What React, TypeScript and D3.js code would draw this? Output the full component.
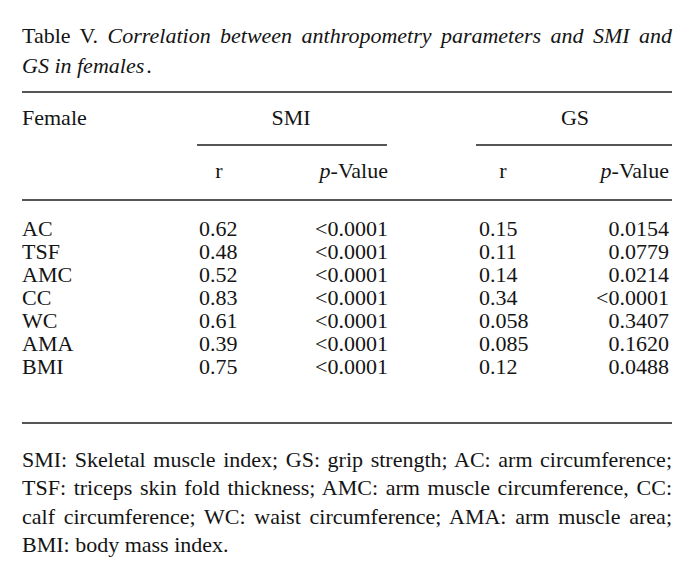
import React, { useEffect, useRef } from "react";
import * as d3 from "d3";

const params = ["AC", "TSF", "AMC", "CC", "WC", "AMA", "BMI"];
const smiR = ["0.62", "0.48", "0.52", "0.83", "0.61", "0.39", "0.75"];
const smiP = ["<0.0001", "<0.0001", "<0.0001", "<0.0001", "<0.0001", "<0.0001", "<0.0001"];
const gsR = ["0.15", "0.11", "0.14", "0.34", "0.058", "0.085", "0.12"];
const gsP = ["0.0154", "0.0779", "0.0214", "<0.0001", "0.3407", "0.1620", "0.0488"];

const titleLabel = "Table V.";
const titleLines = ["Correlation between anthropometry parameters and SMI and", "GS in females"];
const footnoteLines = [
  "SMI: Skeletal muscle index; GS: grip strength; AC: arm circumference;",
  "TSF: triceps skin fold thickness; AMC: arm muscle circumference, CC:",
  "calf circumference; WC: waist circumference; AMA: arm muscle area;",
  "BMI: body mass index.",
];

const W = 695;
const H = 563;
const FONT = "'Liberation Serif', 'Times New Roman', serif";
const FS = 22;
const L = 22;
const R = 672;
const TEXT = "#141414";
const RULE = "#1e1e1e";

export default function App() {
  const ref = useRef<SVGSVGElement>(null);

  useEffect(() => {
    const svg = d3.select(ref.current);
    svg.selectAll<SVGTextElement, unknown>("text.justify").each(function () {
      const el = this as SVGTextElement;
      el.setAttribute("word-spacing", "0");
      const natural = el.getComputedTextLength();
      const spaces = (el.textContent || "").split(" ").length - 1;
      const target = R - L;
      if (spaces > 0 && natural < target) {
        el.setAttribute("word-spacing", String((target - natural) / spaces));
      }
    });
  }, []);

  const rowY = d3.scalePoint<string>().domain(params).range([236, 374]);

  const smiRX = 199; // left-aligned
  const smiPX = 388; // right-aligned
  const gsRX = 479; // left-aligned
  const gsPX = 669; // right-aligned

  const footY = d3.scalePoint<string>().domain(footnoteLines).range([467, 552]);

  return (
    <div style={{ position: "absolute", left: 0, top: 0, width: W, height: H, background: "#fff" }}>
      <svg ref={ref} width={W} height={H} style={{ display: "block" }} fontFamily={FONT} fontSize={FS} fill={TEXT}>
        <rect width={W} height={H} fill="#fff" />
        {/* Title */}
        <text className="justify" x={L} y={43}>
          <tspan>{titleLabel} </tspan>
          <tspan fontStyle="italic">{titleLines[0]}</tspan>
        </text>
        <text x={L} y={73}>
          <tspan fontStyle="italic">{titleLines[1]}</tspan>
          <tspan dx={2}>.</tspan>
        </text>

        {/* Rules */}
        <line x1={L} x2={R} y1={92} y2={92} stroke={RULE} strokeWidth={1.6} />
        <line x1={197} x2={387} y1={145} y2={145} stroke={RULE} strokeWidth={1.3} />
        <line x1={476} x2={R} y1={145} y2={145} stroke={RULE} strokeWidth={1.3} />
        <line x1={L} x2={R} y1={200} y2={200} stroke={RULE} strokeWidth={1.6} />
        <line x1={L} x2={R} y1={423} y2={423} stroke={RULE} strokeWidth={1.6} />

        {/* Header */}
        <text x={L} y={125}>Female</text>
        <text x={291} y={125} textAnchor="middle">SMI</text>
        <text x={575} y={125} textAnchor="middle">GS</text>
        <text x={219} y={178} textAnchor="middle">r</text>
        <text x={smiPX} y={178} textAnchor="end">
          <tspan fontStyle="italic">p</tspan>-Value
        </text>
        <text x={503} y={178} textAnchor="middle">r</text>
        <text x={gsPX} y={178} textAnchor="end">
          <tspan fontStyle="italic">p</tspan>-Value
        </text>

        {/* Body */}
        {params.map((p, i) => (
          <g key={p}>
            <text x={L} y={rowY(p)}>{p}</text>
            <text x={smiRX} y={rowY(p)}>{smiR[i]}</text>
            <text x={smiPX} y={rowY(p)} textAnchor="end">{smiP[i]}</text>
            <text x={gsRX} y={rowY(p)}>{gsR[i]}</text>
            <text x={gsPX} y={rowY(p)} textAnchor="end">{gsP[i]}</text>
          </g>
        ))}

        {/* Footnote */}
        {footnoteLines.map((line, i) => (
          <text key={i} className={i < footnoteLines.length - 1 ? "justify" : undefined} x={L} y={footY(line)}>
            {line}
          </text>
        ))}
      </svg>
    </div>
  );
}
